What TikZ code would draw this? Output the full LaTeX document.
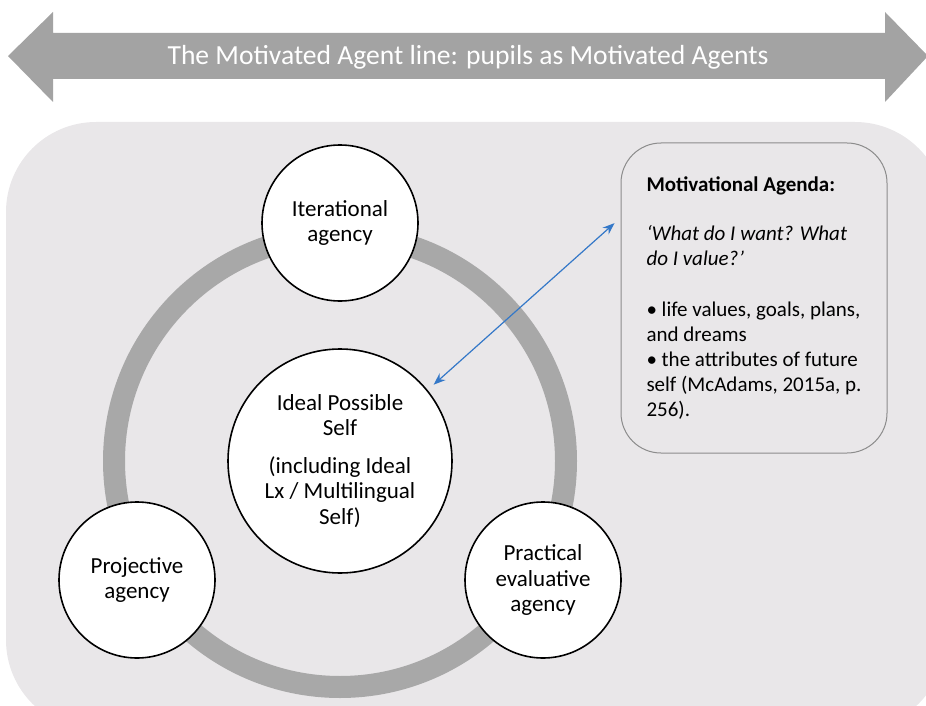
\documentclass[tikz,border=0pt]{standalone}
\usepackage{fontspec}
\setmainfont{Carlito}
\usepackage{xcolor}
\usetikzlibrary{arrows.meta}
\definecolor{bggray}{RGB}{233,231,233}
\definecolor{arrowgray}{RGB}{163,163,163}
\definecolor{ringgray}{RGB}{168,168,168}
\definecolor{linkblue}{RGB}{52,120,200}

\begin{document}
\begin{tikzpicture}[x=0.5pt,y=-0.5pt,
    agency/.style={circle,draw=black,line width=0.8pt,fill=white,minimum size=78pt,inner sep=0pt,align=center,font=\fontsize{11.5}{12.8}\selectfont},
    selfcircle/.style={agency,minimum size=112pt},
    agendabox/.style={draw=black!45,line width=0.5pt,rounded corners=20pt,minimum width=133pt,minimum height=155pt,align=left,font=\fontsize{10.5}{12.5}\selectfont},
    ring/.style={draw=ringgray,line width=11pt},
    link/.style={<->,>={Stealth[length=6pt,width=4.5pt]},draw=linkblue,line width=0.6pt,shorten <=4pt,shorten >=4pt}]
      \clip (0,0) rectangle (926,706);
      \fill[bggray,rounded corners=45pt] (6,122) rectangle (945,730);%背景
      \fill[arrowgray] (8,56)--(53,12)--(53,33)--(885,33)--(885,12)--(928,56)--(885,102)--(885,79)--(53,79)--(53,102)--cycle;%上の矢印
      \node[text=white,font=\fontsize{13.8}{16}\selectfont] (title) at (468,57) {The Motivated Agent line: pupils as Motivated Agents};
      \draw[ring] (340,461) circle[radius=226];%輪
      \node[selfcircle] (ideal) at (340,461) {Ideal Possible\\Self\\[6pt](including Ideal\\Lx / Multilingual\\Self)};
      \node[agency] (iter) at (340,223) {Iterational\\agency};
      \node[agency] (proj) at (137,580) {Projective\\agency};
      \node[agency] (prac) at (543,580) {Practical\\evaluative\\agency};
      \node[agendabox] (agenda) at (754,298) {\textbf{Motivational Agenda:}\\[12pt]
        \textit{‘What do I want? What}\\\textit{do I value?’}\\[13pt]
        • life values, goals, plans,\\and dreams\\
        • the attributes of future\\self (McAdams, 2015a, p.\\256).};
      \draw[link] (ideal.39)--(agenda.149);
    \end{tikzpicture}
\end{document}
